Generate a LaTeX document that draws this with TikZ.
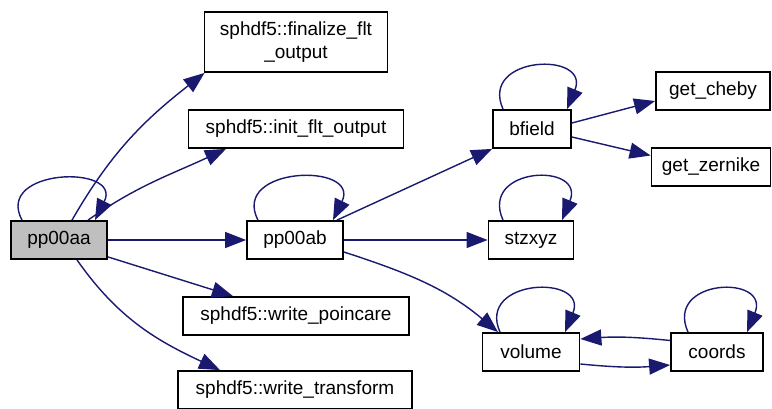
\documentclass[tikz,border=0pt]{standalone}
\usepackage{fontspec}
\setmainfont{Liberation Sans}
\usetikzlibrary{arrows.meta}
\definecolor{edgeblue}{RGB}{25,25,112}
\definecolor{boxgray}{RGB}{191,191,191}

\begin{document}
\begin{tikzpicture}[x=0.5pt,y=-0.5pt,
	fn/.style={draw,line width=0.9pt,inner xsep=2pt,minimum height=19pt,
		font=\fontsize{9.5}{11.5}\selectfont},
	call/.style={draw=edgeblue,line width=0.7pt,
		-{Triangle[length=10.5pt,width=8pt,fill=edgeblue]}}]
	\useasboundingbox (0,0) rectangle (772,408);

	\node[fn,fill=boxgray,minimum width=48pt] (pp00aa) at (59,240) {pp00aa};
	\node[fn,align=center,minimum width=91.5pt,minimum height=30pt] (finalize) at (296,42) {sphdf5::finalize\_flt\\\_output};
	\node[fn,minimum width=107.5pt] (init) at (296,129) {sphdf5::init\_flt\_output};
	\node[fn,minimum width=48pt] (pp00ab) at (295,240) {pp00ab};
	\node[fn,minimum width=113pt] (poincare) at (296,316) {sphdf5::write\_poincare};
	\node[fn,minimum width=117pt] (transform) at (295,390) {sphdf5::write\_transform};

	\node[fn,minimum width=39pt] (bfield) at (532,129) {bfield};
	\node[fn,minimum width=42.5pt] (stzxyz) at (531,240) {stzxyz};
	\node[fn,minimum width=48.5pt] (volume) at (531,352) {volume};
	\node[fn,minimum width=57pt] (cheby) at (713,91) {get\_cheby};
	\node[fn,minimum width=59.5pt] (zernike) at (711,167) {get\_zernike};
	\node[fn,minimum width=46pt] (coords) at (717,352) {coords};

	% self calls
	\draw[call] ([xshift=-18.5pt]pp00aa.north) .. controls +(-14pt,26pt) and +(14pt,28pt) .. ([xshift=18pt]pp00aa.north);
	\draw[call] ([xshift=-18.5pt]pp00ab.north) .. controls +(-14pt,27pt) and +(14pt,29pt) .. ([xshift=19pt]pp00ab.north);
	\draw[call] ([xshift=-14.5pt]bfield.north) .. controls +(-12pt,27pt) and +(12pt,29pt) .. ([xshift=17.5pt]bfield.north);
	\draw[call] ([xshift=-14pt]stzxyz.north) .. controls +(-12pt,27pt) and +(12pt,29pt) .. ([xshift=15.5pt]stzxyz.north);
	\draw[call] ([xshift=-15.5pt]volume.north) .. controls +(-12pt,27pt) and +(12pt,29pt) .. ([xshift=17pt]volume.north);
	\draw[call] ([xshift=-14.5pt]coords.north) .. controls +(-12pt,27pt) and +(12pt,29pt) .. ([xshift=15pt]coords.north);

	% pp00aa
	\draw[call] ([xshift=6.5pt]pp00aa.north) to[out=60,in=218] ([xshift=0.5pt]finalize.south west);
	\draw[call] ([xshift=14.5pt]pp00aa.north) to[out=35,in=205] ([xshift=-35pt]init.south);
	\draw[call] (pp00aa) -- (pp00ab);
	\draw[call] ([yshift=1.5pt]pp00aa.south east) -- ([xshift=-31.5pt]poincare.north);
	\draw[call] ([xshift=9pt]pp00aa.south) to[out=-55,in=155] ([xshift=-37.5pt]transform.north);

	% pp00ab
	\draw[call] ([xshift=21pt]pp00ab.north) -- (bfield.south west);
	\draw[call] (pp00ab) -- (stzxyz);
	\draw[call] ([yshift=-6pt]pp00ab.east) to[out=-18,in=140] ([xshift=-16.5pt]volume.north);

	% bfield, volume
	\draw[call] ([yshift=3pt]bfield.east) -- ([yshift=-5pt]cheby.west);
	\draw[call] ([yshift=-4pt]bfield.east) -- ([yshift=5.75pt]zernike.west);
	\draw[call] ([yshift=-6pt]volume.east) to[bend right=5] ([yshift=-6.5pt]coords.west);
	\draw[call] ([yshift=5.75pt]coords.west) to[bend right=5] ([yshift=6.5pt]volume.east);
\end{tikzpicture}
\end{document}
